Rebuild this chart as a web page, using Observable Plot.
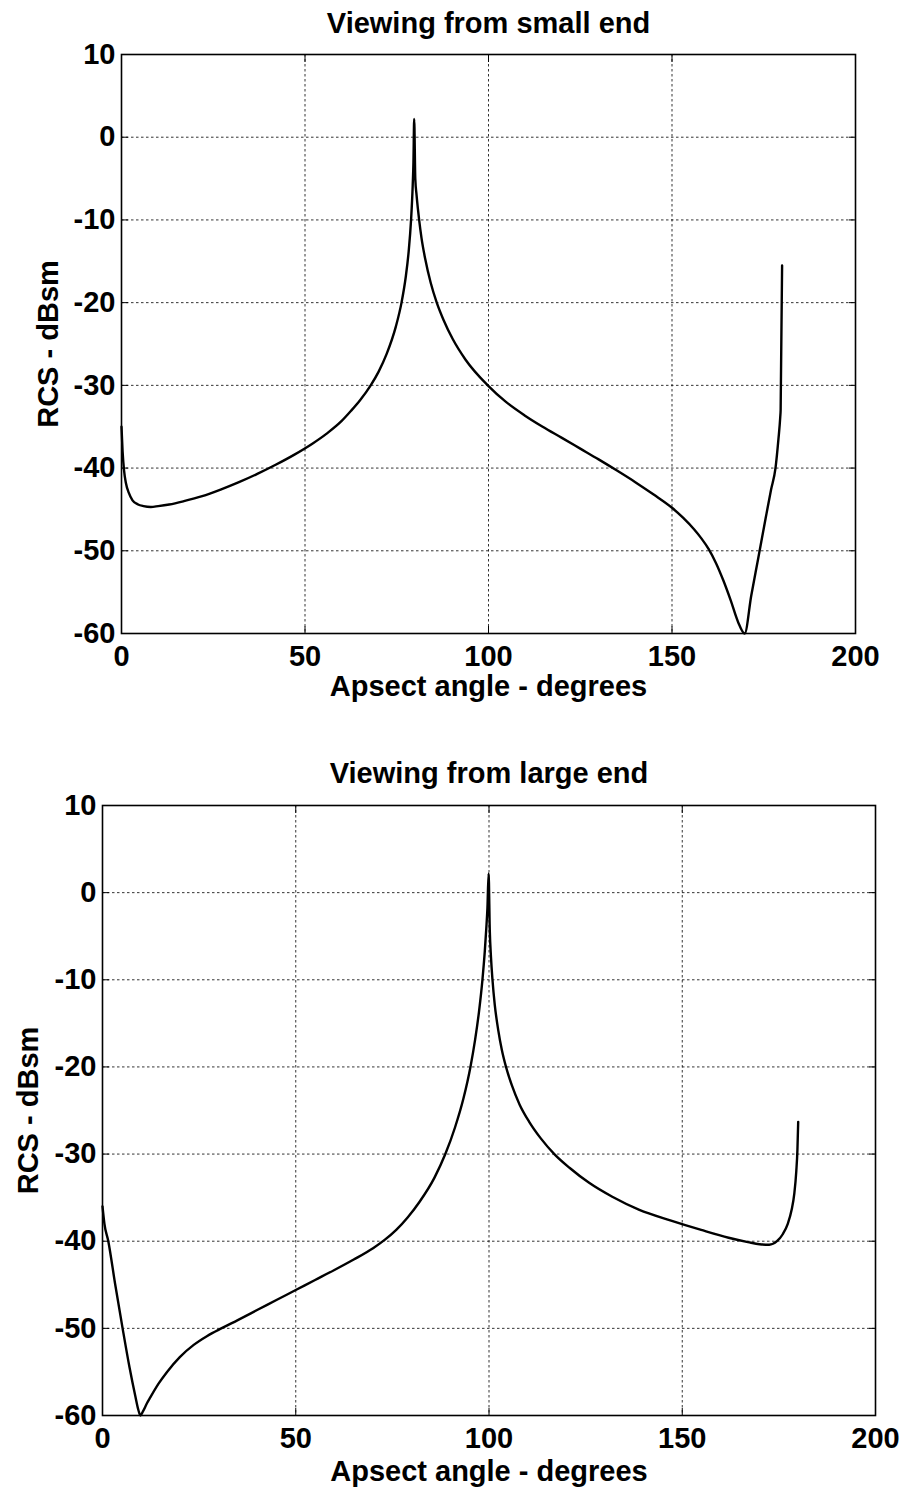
<!DOCTYPE html>
<html>
<head>
<meta charset="utf-8">
<script src="https://cdn.jsdelivr.net/npm/d3@7"></script>
<script src="https://cdn.jsdelivr.net/npm/@observablehq/plot@0.6"></script>
<style>
  html, body { margin: 0; padding: 0; background: #fff; }
  #fig { width: 906px; height: 1492px; position: relative; background: #fff; }
  #fig svg { display: block; }
</style>
</head>
<body>
<div id="fig"></div>
<script>
// Axis ticks and labels
const xTicks = [0, 50, 100, 150, 200];
const yTicks = [10, 0, -10, -20, -30, -40, -50, -60];
const titles = ["Viewing from small end", "Viewing from large end"];
const xLabel = "Apsect angle - degrees";
const yLabel = "RCS - dBsm";

// RCS of the cone viewed from the small end (degrees, dBsm)
const smallAngle = [0, 0.3, 0.7, 1.2, 2, 3, 4.5, 6, 8, 10, 13, 17, 22, 27, 32, 37, 42, 47, 52, 56,
  60, 62.5, 65, 67.9, 70, 72.25, 74.75, 76.3, 77.45, 78.25, 78.9, 79.35, 79.55, 79.75,
  80.05, 80.4, 80.75, 81.1, 81.75, 82.75, 84.25, 85.9, 87.75, 90.25, 93.75, 99.8, 104.75, 109.75, 114.75, 120,
  125, 130, 135, 140, 145, 150, 153, 156, 158, 160, 162, 164, 166, 168, 169.8,
  171.6, 173.5, 175.5, 177, 178.2, 179, 179.5, 179.6, 180];
const smallRcs = [-35, -38, -40.3, -41.8, -43, -43.9, -44.4, -44.6, -44.7, -44.6, -44.4, -44.0, -43.4, -42.6, -41.7, -40.7, -39.6, -38.4, -37.05, -35.8,
  -34.3, -33.1, -31.8, -30, -28.4, -26.2, -22.9, -20, -16.9, -13.8, -10, -5.8, -3, 2.2,
  -5, -7, -8.6, -10, -12.2, -14.7, -17.6, -20, -22.1, -24.4, -26.9, -30, -32, -33.6, -35, -36.35,
  -37.65, -38.95, -40.3, -41.7, -43.2, -44.8, -46, -47.4, -48.5, -49.8, -51.5, -53.6, -56, -58.6, -60,
  -55.4, -50.9, -46.1, -42.6, -40, -36.5, -33.8, -33, -15.5];

// RCS of the cone viewed from the large end (degrees, dBsm)
const largeAngle = [0, 0.5, 1.5, 3.3, 5.2, 7, 8.5, 9.3, 9.8, 10.5, 11.5, 12.4, 14.5, 16.7, 20, 23.6, 27, 31, 35, 40,
  45, 50, 55, 60, 65, 70, 73, 76, 79, 82, 85.9, 88.7, 91.2, 93.4, 95.2, 96.4, 97.4, 98.3, 98.9, 99.3, 99.6, 99.9,
  100.2, 100.5, 100.9, 101.5, 102.4, 103.3, 104.4, 105.9, 107.9, 110.4, 113.4, 116.9, 120.9, 125.9, 131.9, 138.9, 146.9, 154.9, 162, 167, 170,
  172.5, 174.5, 176, 177.3, 178.3, 179, 179.5, 179.8, 180];
const largeRcs = [-36, -38, -40, -45, -50, -54.5, -57.8, -59.4, -60, -59.5, -58.6, -57.9, -56.35, -55, -53.3, -51.9, -50.9, -49.95, -49.05, -47.9,
  -46.75, -45.6, -44.45, -43.3, -42.1, -40.8, -39.85, -38.7, -37.25, -35.5, -32.7, -30, -26.95, -23.6, -20, -16.9, -13.7, -10, -6.8, -4.1, -1.7, 2.2,
  -4.3, -7.3, -10, -12.9, -15.8, -18, -20, -22.1, -24.3, -26.3, -28.2, -30, -31.6, -33.3, -34.9, -36.4, -37.6, -38.7, -39.6, -40.1, -40.35,
  -40.4, -40, -39.2, -38, -36.4, -34.5, -32, -29.5, -26.3];

const font = "'Liberation Sans', Arial, Helvetica, sans-serif";
const tickText = d => String(d);

function panel(angle, rcs, title, m, lay) {
  const pts = angle.map((a, i) => ({angle: a, rcs: rcs[i]}));
  const blank = () => "";
  const grid = {stroke: "#000", strokeOpacity: 0.8, strokeWidth: 1, strokeDasharray: "2.5,2.5"};
  return Plot.plot({
    width: 906,
    height: 746,
    marginTop: m.top,
    marginRight: m.right,
    marginBottom: m.bottom,
    marginLeft: m.left,
    style: {fontFamily: font, fontSize: "29px", fontWeight: "bold", color: "#000", background: "#fff", overflow: "visible"},
    x: {domain: [0, 200]},
    y: {domain: [-60, 10]},
    marks: [
      Plot.gridX({ticks: xTicks, ...grid}),
      Plot.gridY({ticks: yTicks, ...grid}),
      // inward tick marks on all four sides
      Plot.axisX({ticks: xTicks, anchor: "bottom", tickSize: -7, tickFormat: blank, label: null}),
      Plot.axisX({ticks: xTicks, anchor: "top", tickSize: -7, tickFormat: blank, label: null}),
      Plot.axisY({ticks: yTicks, anchor: "left", tickSize: -7, tickFormat: blank, label: null}),
      Plot.axisY({ticks: yTicks, anchor: "right", tickSize: -7, tickFormat: blank, label: null}),
      // tick labels
      Plot.axisX({ticks: xTicks, anchor: "bottom", tickSize: 0, tickPadding: lay.xPad, tickFormat: tickText, label: null}),
      Plot.axisY({ticks: yTicks, anchor: "left", tickSize: 0, tickPadding: lay.yPad, tickFormat: tickText, label: null}),
      Plot.line(pts, {x: "angle", y: "rcs", stroke: "#000", strokeWidth: 2.4, curve: "monotone-x"}),
      Plot.frame({stroke: "#000", strokeWidth: 1.6}),
      Plot.text([title], {text: d => d, frameAnchor: "top", dy: lay.titleDy, lineAnchor: "bottom"}),
      Plot.text([xLabel], {text: d => d, frameAnchor: "bottom", dy: lay.xLabelDy, lineAnchor: "bottom"}),
      Plot.text([yLabel], {text: d => d, frameAnchor: "left", dx: lay.yLabelDx, rotate: -90, lineAnchor: "top", textAnchor: "middle"})
    ]
  });
}

const fig = document.getElementById("fig");
fig.append(panel(smallAngle, smallRcs, titles[0],
  {top: 54, right: 51, bottom: 113, left: 121},
  {xPad: 12, yPad: 6, titleDy: -22, xLabelDy: 62, yLabelDx: -84}));
fig.append(panel(largeAngle, largeRcs, titles[1],
  {top: 59, right: 31, bottom: 77, left: 102},
  {xPad: 12, yPad: 6, titleDy: -23, xLabelDy: 65, yLabelDx: -85}));
</script>
</body>
</html>
